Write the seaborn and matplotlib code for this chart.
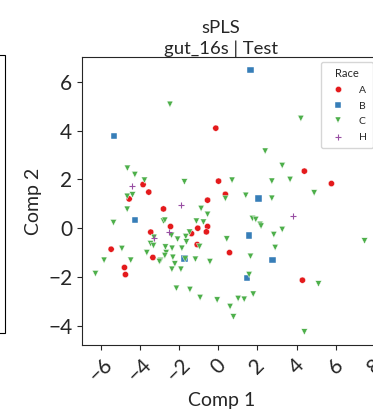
import matplotlib
matplotlib.use("Agg")
import matplotlib.pyplot as plt
from matplotlib.patches import Rectangle
from matplotlib.ticker import MultipleLocator
import pandas as pd
import seaborn as sns

races = ["A", "B", "C"]
colors = {"A": "#e41a1c", "B": "#377eb8", "C": "#4daf4a", "H": "#984ea3"}
markers = {"A": "o", "B": "s", "C": "v"}

a_x = [-0.12, 4.40, 5.78, -3.83, -3.54, 0.02, 0.37, -4.54, -2.79, -0.54, -2.43, -1.04,
       -0.54, -0.60, -3.44, -1.36, -1.07, -5.46, 0.58, -3.33, -4.78, -4.73, 4.30]
a_y = [4.10, 2.34, 1.83, 1.79, 1.48, 1.93, 1.39, 1.20, 0.79, 1.15, 0.07, 0.00,
       0.07, -0.15, -0.16, -0.22, -0.67, -0.86, -1.00, -1.20, -1.61, -1.90, -2.13]

b_x = [1.65, -5.32, 2.06, -4.25, 1.58, -1.72, 2.77, 1.46]
b_y = [6.48, 3.77, 1.22, 0.33, -0.30, -1.24, -1.31, -2.04]

c_x = [-2.46, 4.22, 2.40, 3.27, -4.63, -4.25, -3.76, -1.72, 0.71, 0.37, 1.41, 2.74,
       2.74, 3.67, 4.90, -4.64, -4.37, -4.64, -0.87, -0.54, -5.34, -2.79, -2.72, -1.11,
       -0.75, 1.75, 1.92, 2.14, 2.19, 3.27, 7.47, -3.27, -2.38, -2.07, -1.65, -1.62,
       -1.46, -3.45, -3.30, -0.95, 0.44, 2.84, 2.91, -4.91, -2.69, -2.35, -1.85, -3.64,
       -2.65, -2.72, -2.31, 1.65, -5.82, -4.46, -2.94, -3.00, -1.68, -1.16, -0.42, -2.21,
       -2.36, -1.90, -6.26, 1.58, -2.13, -1.44, -0.92, -0.05, 0.61, 0.78, 1.02, 1.33,
       1.79, 5.12, 4.40]
c_y = [5.08, 4.50, 3.16, 2.57, 2.46, 2.20, 1.97, 1.90, 1.97, 1.22, 1.35, 1.93,
       1.23, 2.00, 1.45, 1.31, 1.37, 0.78, 0.81, 0.57, 0.23, 0.29, 0.33, 0.29,
       0.25, 0.40, 0.36, 0.16, 0.09, -0.05, -0.52, -0.37, -0.29, -0.45, -0.34, -0.56,
       -0.16, -0.63, -0.71, -0.75, -0.44, -0.26, -0.79, -0.83, -0.77, -0.82, -0.82, -1.00,
       -1.00, -1.12, -1.19, -1.15, -1.31, -1.31, -1.32, -1.36, -1.26, -1.27, -1.37, -1.46,
       -1.68, -1.68, -1.86, -1.90, -2.46, -2.51, -2.84, -2.94, -3.21, -3.63, -2.88, -2.91,
       -2.70, -2.28, -4.25]

h_x = [-4.37, -1.90, 3.84, -2.52, -3.27]
h_y = [1.75, 0.97, 0.48, -0.16, -0.41]

sns.set_style("ticks")
plt.rcParams["font.family"] = ["Lato", "DejaVu Sans"]

df = pd.DataFrame({
    "Comp 1": a_x + b_x + c_x,
    "Comp 2": a_y + b_y + c_y,
    "Race": ["A"] * len(a_x) + ["B"] * len(b_x) + ["C"] * len(c_x),
})
h_df = pd.DataFrame({"Comp 1": h_x, "Comp 2": h_y})

fig = plt.figure(figsize=(3.73, 4.11), dpi=100)
ax = fig.add_axes([82 / 373, 66 / 411, 296 / 373, 288 / 411])
sns.scatterplot(data=df, x="Comp 1", y="Comp 2", hue="Race", style="Race",
                hue_order=races, style_order=races, palette=colors, markers=markers,
                s=20, edgecolor="white", linewidth=0.3, ax=ax)
sns.scatterplot(data=h_df, x="Comp 1", y="Comp 2", marker="+", color=colors["H"],
                s=20, linewidth=0.8, label="H", ax=ax)

handles, labels = ax.get_legend_handles_labels()
ax.legend(handles, labels, title="Race", loc="upper right", fontsize=7.5,
          title_fontsize=8, borderpad=0.6, handletextpad=1.0, labelspacing=0.6)

ax.set_title("sPLS\ngut_16s | Test", fontsize=13.3, x=0.47, pad=1, linespacing=1.3)
ax.set_xlabel("Comp 1", fontsize=14, x=0.473)
ax.set_ylabel("Comp 2", fontsize=14)
ax.xaxis.set_major_locator(MultipleLocator(2))
ax.tick_params(labelsize=15)
ax.tick_params(axis="x", labelrotation=45)

# edge of the neighbouring panel, cut off at the left
fig.add_artist(Rectangle((-0.1, 78 / 411), 0.1 + 5 / 373, 278 / 411,
                         transform=fig.transFigure, fill=False, ec="black", lw=0.8))

fig.savefig("out.png", dpi=100)
